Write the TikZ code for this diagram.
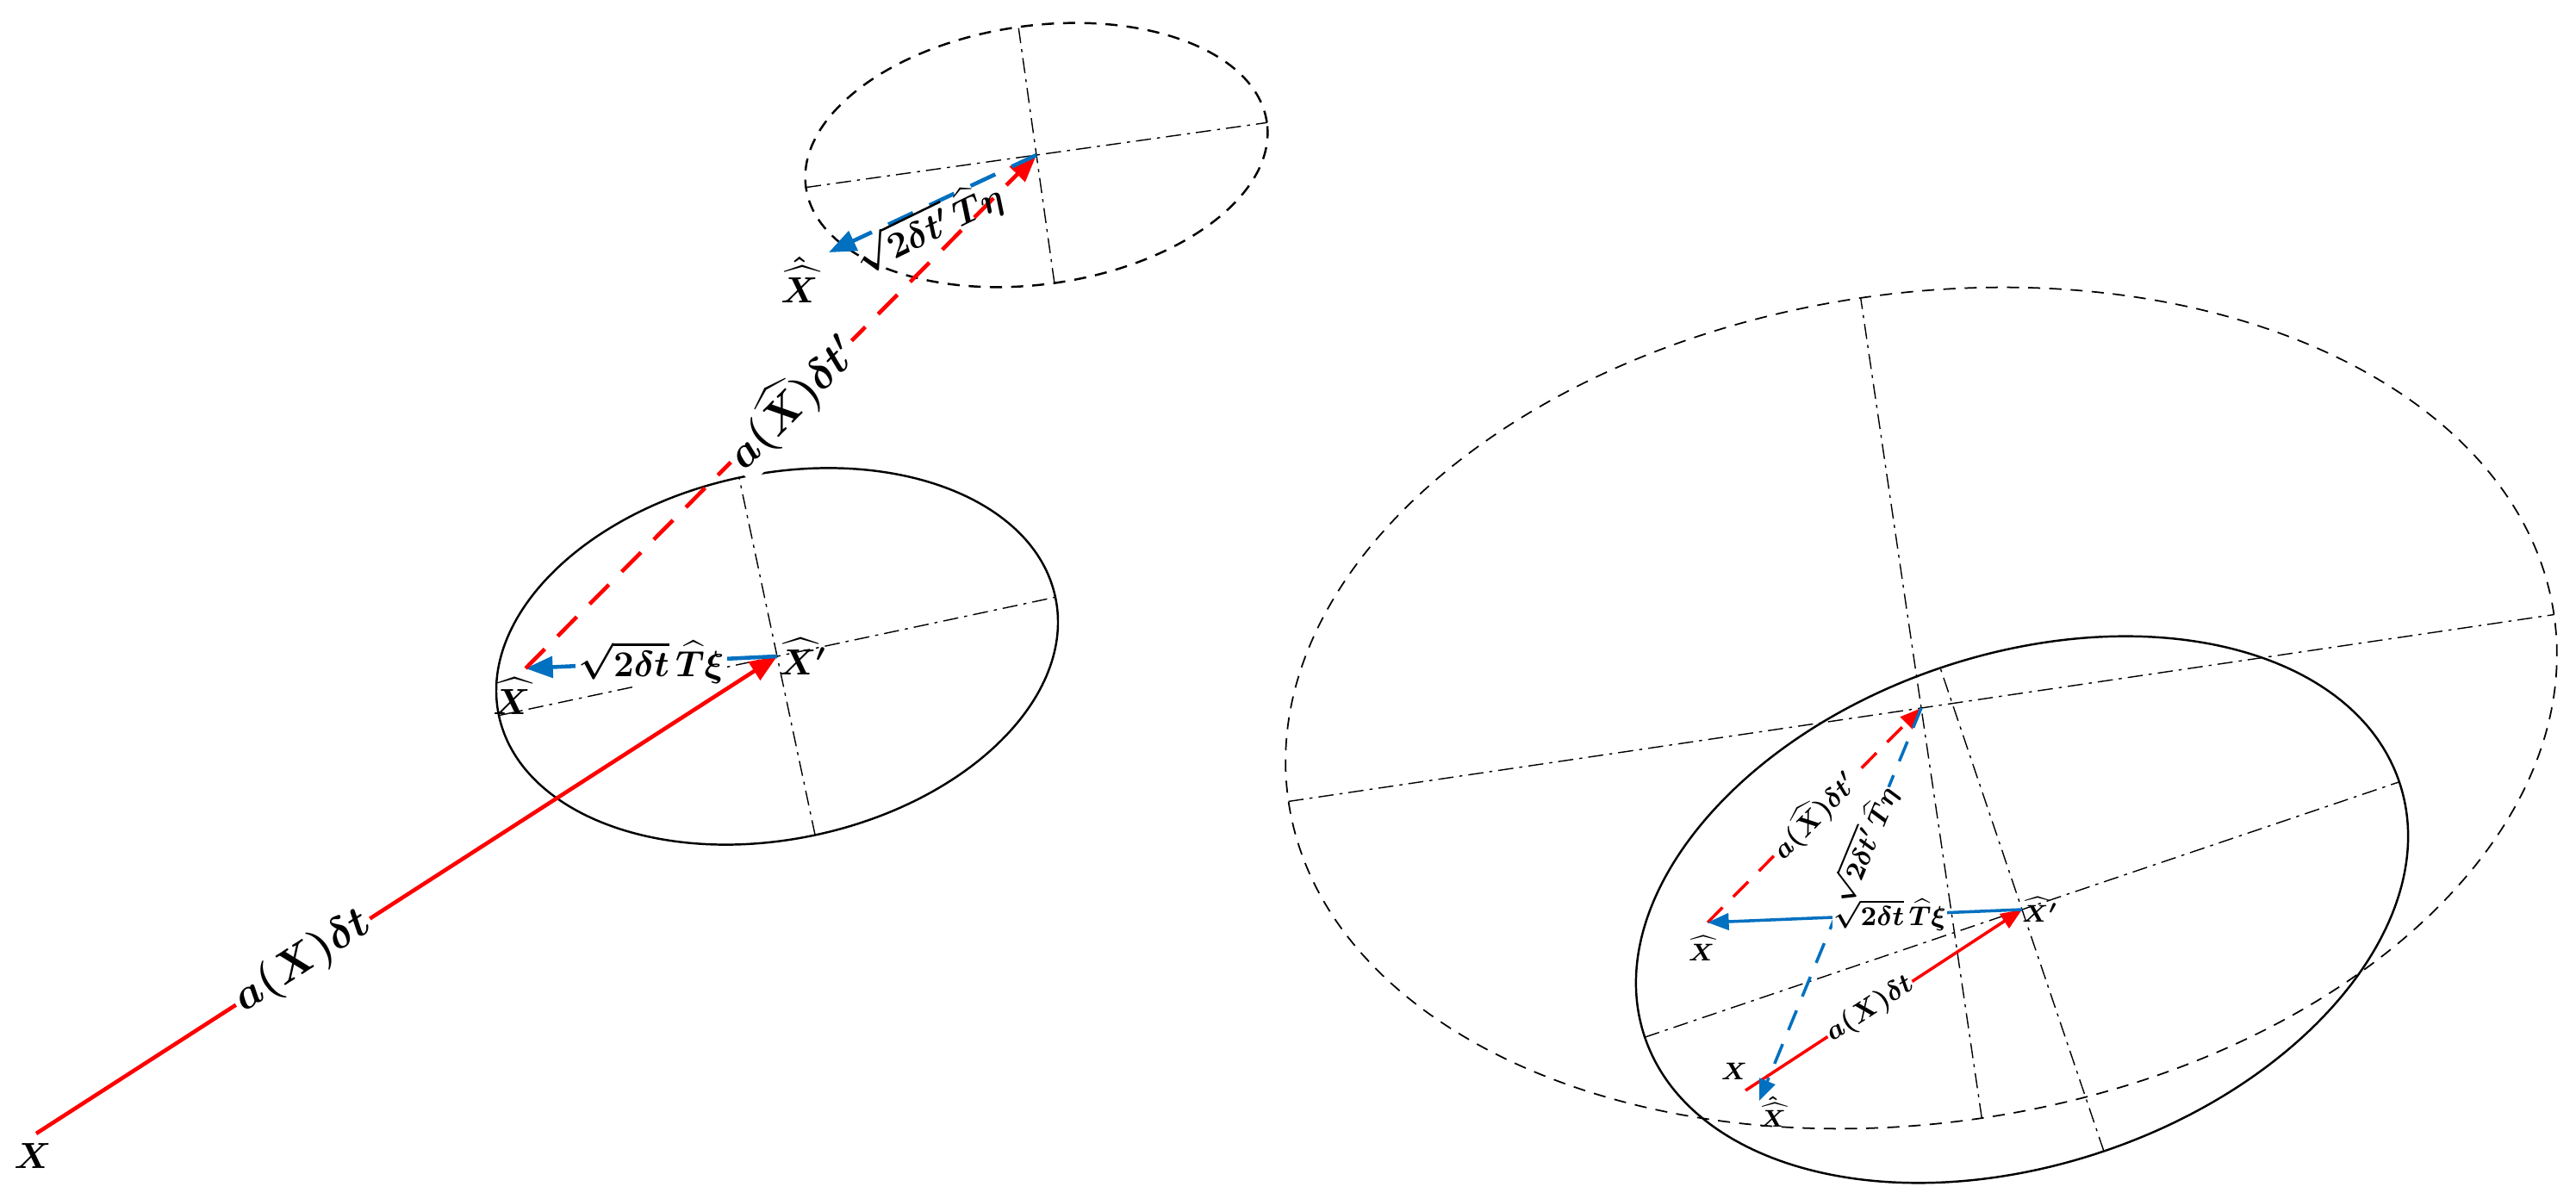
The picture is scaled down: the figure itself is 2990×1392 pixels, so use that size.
\documentclass[tikz,border=0pt]{standalone}
\usepackage{amsmath,bm}
\usetikzlibrary{arrows.meta}
\begin{document}
\begin{tikzpicture}[x=0.01cm,y=-0.01cm,
  dd/.style={line width=0.4pt,dash pattern=on 5pt off 2pt on 1pt off 2pt},
  ell/.style={line width=0.7pt},
  dell/.style={line width=0.7pt,dash pattern=on 4pt off 3pt},
  redv/.style={red,line width=1.3pt,-{Triangle[length=9pt,width=7pt]}},
  bluev/.style={draw=myblue,line width=1.3pt,-{Triangle[length=9pt,width=7pt]},myblue},
  sredv/.style={red,line width=1pt,-{Triangle[length=7pt,width=5.5pt]}},
  sbluev/.style={myblue,line width=1pt,-{Triangle[length=7pt,width=5.5pt]}},
  lab/.style={fill=white,text=black,inner sep=1pt,font=\Large},
  slab/.style={fill=white,text=black,inner sep=0.3pt,font=\small},
  pt/.style={font=\large},
  spt/.style={font=\footnotesize}]
\definecolor{myblue}{RGB}{0,112,192}
\useasboundingbox (0,0) rectangle (2990,1392);
% ---- left panel
\coordinate (X) at (42,1316);
\coordinate (Xp) at (902,762);
\coordinate (Xh) at (610,776);
\coordinate (T) at (1203,180);
\coordinate (Xhh) at (962,293);
\begin{scope}[shift={(T)},rotate=8]
 \draw[dell] (0,0) ellipse [x radius=2.7cm,y radius=1.5cm];
 \draw[dd] (-2.7cm,0)--(2.7cm,0); \draw[dd] (0,-1.5cm)--(0,1.5cm);
\end{scope}
\begin{scope}[shift={(Xp)},rotate=12]
 \draw[ell] (0,0) ellipse [x radius=3.3cm,y radius=2.12cm];
 \draw[dd] (-3.3cm,0)--(3.3cm,0); \draw[dd] (0,-2.12cm)--(0,2.12cm);
\end{scope}
\draw[redv] (X) -- node[lab,sloped,pos=0.36]{$\bm{a(X)\delta t}$} (Xp);
\draw[bluev] (Xp) -- node[lab,font=\large,pos=0.5]{$\bm{\sqrt{2\delta t}\,\widehat{T}\xi}$} (Xh);
\draw[redv,dash pattern=on 9pt off 6pt] (Xh) -- node[lab,sloped,pos=0.52]{$\bm{a(\widehat{X})\delta t'}$} (T);
\draw[bluev,dash pattern=on 9pt off 6pt] (T) -- (Xhh);
\node[lab,fill=none,font=\large,rotate=26] (l4) at (1078,264) {$\bm{\sqrt{2\delta t'}\,\widehat{T}\eta}$};
\node[pt] (nX) at (38,1342) {$\bm{X}$};
\node[pt] (nXp) at (932,762) {$\bm{\widehat{X}'}$};
\node[pt] (nXh) at (594,808) {$\bm{\widehat{X}}$};
\node[pt] (nXhh) at (928,325) {$\bm{\hat{\widehat{X}}}$};
% ---- right panel
\coordinate (RX) at (2026,1266);
\coordinate (RXp) at (2347,1056);
\coordinate (RXh) at (1982,1071);
\coordinate (RT) at (2230,822);
\coordinate (RXhh) at (2042,1278);
\begin{scope}[shift={(RT)},rotate=8.4]
 \draw[dell,line width=0.5pt] (0,0) ellipse [x radius=7.42cm,y radius=4.81cm];
 \draw[dd] (-7.42cm,0)--(7.42cm,0); \draw[dd] (0,-4.81cm)--(0,4.81cm);
\end{scope}
\begin{scope}[shift={(RXp)},rotate=18.7]
 \draw[ell] (0,0) ellipse [x radius=4.62cm,y radius=2.96cm];
 \draw[dd] (-4.62cm,0)--(4.62cm,0); \draw[dd] (0,-2.96cm)--(0,2.96cm);
\end{scope}
\draw[sredv] (RX) -- node[slab,sloped,pos=0.45]{$\bm{a(X)\delta t}$} (RXp);
\draw[sredv,dash pattern=on 7pt off 5pt] (RXh) -- node[slab,sloped,pos=0.5]{$\bm{a(\widehat{X})\delta t'}$} (RT);
\draw[sbluev,dash pattern=on 7pt off 5pt] (RT) -- node[slab,sloped,pos=0.35]{$\bm{\sqrt{2\delta t'}\,\widehat{T}\eta}$} (RXhh);
\draw[sbluev] (RXp) -- node[slab,pos=0.42]{$\bm{\sqrt{2\delta t}\,\widehat{T}\xi}$} (RXh);
\node[spt] (rX) at (2013,1244) {$\bm{X}$};
\node[spt] (rXp) at (2368,1056) {$\bm{\widehat{X}'}$};
\node[spt] (rXh) at (1975,1101) {$\bm{\widehat{X}}$};
\node[spt] (rXhh) at (2058,1291) {$\bm{\hat{\widehat{X}}}$};
\end{tikzpicture}
\end{document}
